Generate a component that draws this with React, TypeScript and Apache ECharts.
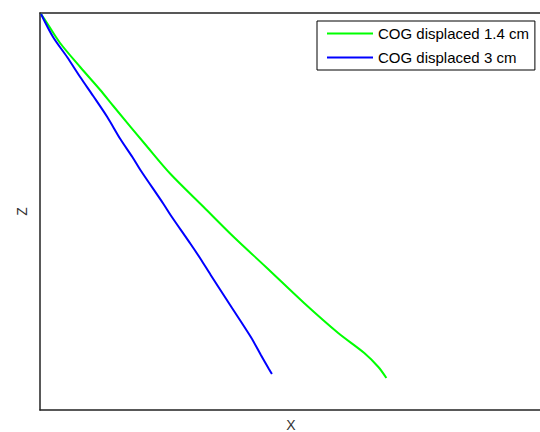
import React, { useEffect, useRef } from "react";
import * as echarts from "echarts";

const seriesNames = ["COG displaced 1.4 cm", "COG displaced 3 cm"];
const seriesColors = ["#00ff00", "#0000ff"];

// [X, Z] pairs (Z grows downward)
const green14: number[][] = [
  [0.1, 0.1], [0.7, 1.0], [2.0, 3.0], [4.0, 5.4], [6.0, 7.7], [7.3, 9.3],
  [10.7, 13.4], [13.0, 16.1], [16.3, 19.4], [19.3, 22.4], [22.5, 25.4],
  [26.3, 29.0], [29.7, 32.0], [32.3, 34.0], [33.7, 35.4], [34.5, 36.5],
];
const blue3: number[][] = [
  [0.1, 0.1], [1.3, 2.4], [2.7, 4.4], [4.0, 6.4], [5.3, 8.3], [6.7, 10.4],
  [8.0, 12.6], [9.2, 14.4], [10.0, 15.7], [12.3, 19.1], [13.0, 20.2],
  [15.0, 23.1], [16.0, 24.6], [17.0, 26.2], [19.0, 29.3], [21.0, 32.4],
  [22.0, 34.2], [22.8, 35.6], [23.1, 36.1],
];
const xRange = [0, 50];
const zRange = [0, 39.7];

export default function App() {
  const ref = useRef<HTMLDivElement>(null);
  useEffect(() => {
    if (!ref.current) return;
    const chart = echarts.init(ref.current, undefined, { renderer: "svg" });
    const font = "'Liberation Sans', Arial, sans-serif";
    const axisLine = { show: true, onZero: false, lineStyle: { color: "#222", width: 1.5 } };
    chart.setOption({
      animation: false,
      textStyle: { fontFamily: font },
      grid: {
        left: 40,
        top: 13,
        right: -2,
        bottom: 22,
        containLabel: false,
        outerBoundsMode: "none",
      },
      legend: {
        orient: "vertical",
        left: 317,
        top: 21,
        padding: [4, 6, 4, 10],
        itemGap: 7,
        itemWidth: 46,
        itemHeight: 2,
        icon: "rect",
        borderColor: "#000",
        borderWidth: 1,
        backgroundColor: "#fff",
        textStyle: { fontSize: 15, color: "#000", fontFamily: font, lineHeight: 17 },
        data: seriesNames,
      },
      xAxis: [
        {
          type: "value",
          min: xRange[0],
          max: xRange[1],
          name: "X",
          nameLocation: "middle",
          nameGap: 8,
          nameTextStyle: { fontSize: 14, color: "#333", fontFamily: font },
          axisLine,
          axisTick: { show: false },
          axisLabel: { show: false },
          splitLine: { show: false },
        },
        {
          type: "value",
          position: "top",
          min: xRange[0],
          max: xRange[1],
          axisLine,
          axisTick: { show: false },
          axisLabel: { show: false },
          splitLine: { show: false },
        },
      ],
      yAxis: {
        type: "value",
        inverse: true,
        min: zRange[0],
        max: zRange[1],
        name: "Z",
        nameLocation: "middle",
        nameGap: 11,
        nameRotate: 90,
        nameTextStyle: { fontSize: 14, color: "#333", fontFamily: font },
        axisLine,
        axisTick: { show: false },
        axisLabel: { show: false },
        splitLine: { show: false },
      },
      series: [
        {
          name: seriesNames[0],
          type: "line",
          data: green14,
          showSymbol: false,
          smooth: 0.3,
          color: seriesColors[0],
          lineStyle: { color: seriesColors[0], width: 2 },
        },
        {
          name: seriesNames[1],
          type: "line",
          data: blue3,
          showSymbol: false,
          smooth: 0.3,
          color: seriesColors[1],
          lineStyle: { color: seriesColors[1], width: 2 },
        },
      ],
    });
    return () => chart.dispose();
  }, []);
  return <div ref={ref} style={{ width: 540, height: 432, position: "absolute", left: 0, top: 0 }} />;
}
